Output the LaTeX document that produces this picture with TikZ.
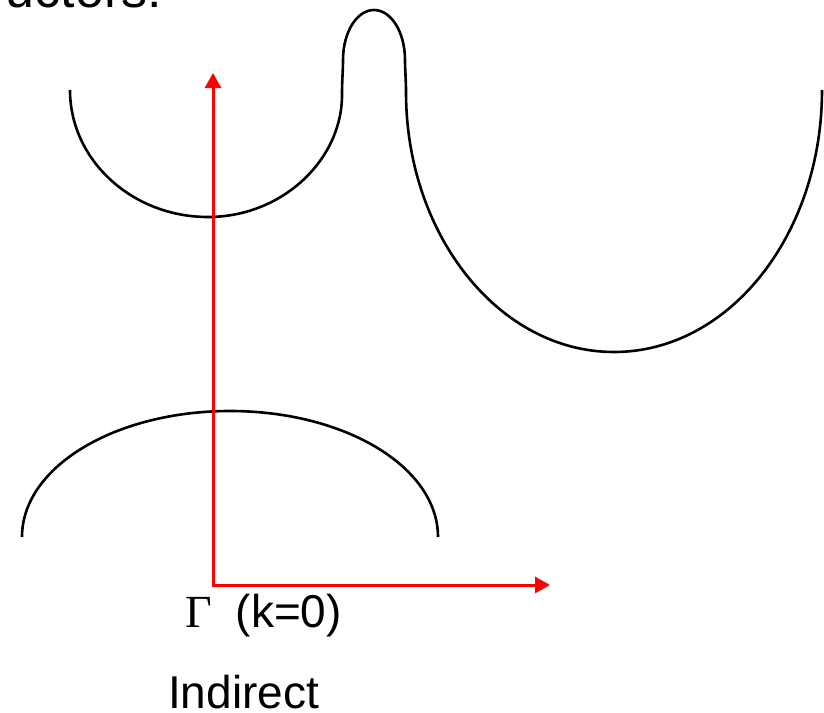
\documentclass[tikz,border=0pt]{standalone}
\usepackage{fontspec}
\setmainfont{Liberation Sans}
\newfontfamily\gammafont{Liberation Serif}
\usepackage{tikz}
\usetikzlibrary{arrows.meta, positioning}
\tikzstyle{band} = [draw=black, line width=2.6pt]
\tikzstyle{axis} = [draw=red, line width=3pt, {Triangle[length=15pt,width=16pt]}-{Triangle[length=15pt,width=16pt]}]
\tikzstyle{lbl} = [inner sep=0pt, font=\fontsize{46}{52}\selectfont]
\tikzstyle{heading} = [inner sep=0pt, font=\fontsize{52}{58}\selectfont]

\begin{document}
\begin{tikzpicture}[x=1pt, y=-1pt]
  \clip (0,0) rectangle (824,712);
  \node (title) [heading, anchor=base east] at (162,8) {uctors:};

  \coordinate (gamma) at (213,585);
  \coordinate (ktip) at (550,585);
  \coordinate (etip) at (213,73);

  \draw[band] (70,90) .. controls (70,160) and (132,217) .. (208,217)
    .. controls (282,217) and (342,160) .. (342,95)
    .. controls (342,80) and (343,70) .. (343,60)
    .. controls (343,32) and (357,10) .. (374,10)
    .. controls (391,10) and (405,32) .. (405,60)
    .. controls (405,70) and (406,80) .. (406,92)
    .. controls (406,235) and (499,352) .. (614,352)
    .. controls (729,352) and (822,235) .. (822,90);
  \draw[band] (22,537) .. controls (22,467) and (115,411) .. (230,411)
    .. controls (345,411) and (438,467) .. (438,537);

  \draw[axis] (etip) -- (gamma) -- (ktip);

  \node (point) [lbl, anchor=base west] at (185,627) {{\gammafont Γ}\hspace{24pt}(k=0)};
  \node (kind) [lbl, anchor=base west] at (168,708) {Indirect};
\end{tikzpicture}
\end{document}
